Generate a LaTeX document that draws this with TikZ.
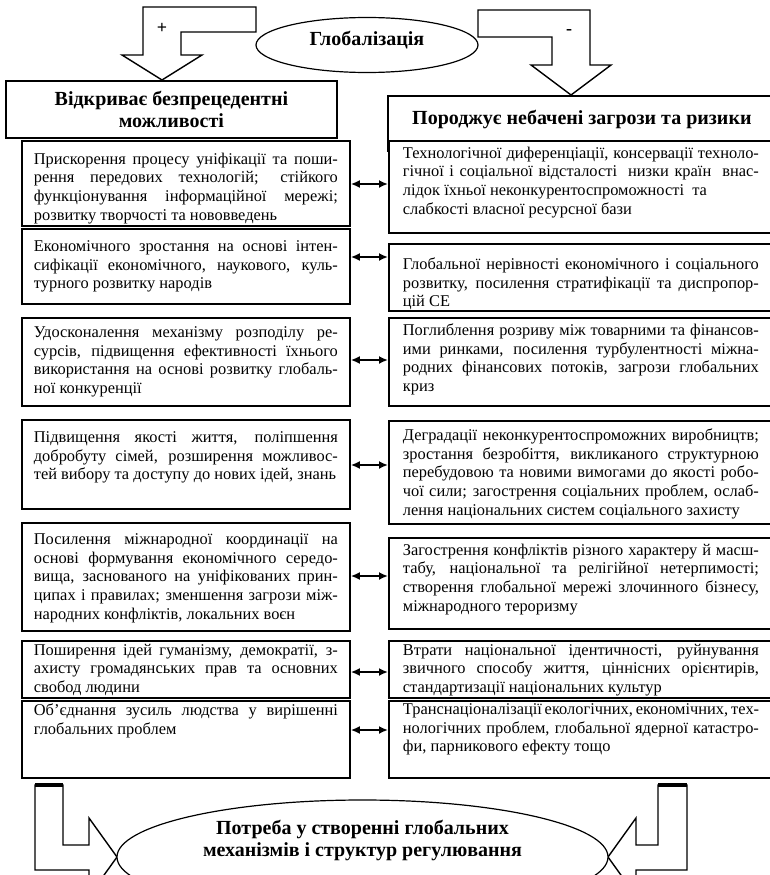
\documentclass[tikz,border=0pt]{standalone}
\usepackage{fontspec}
\setmainfont{Liberation Serif}
\usetikzlibrary{shapes.geometric,arrows.meta}

% one justified line of a cell, and the cell body ([top gap] height, width, lines)
\newcommand{\jl}[1]{\makebox[\linewidth][s]{#1}\\}
\newcommand{\cellbox}[4][9]{\parbox[c][#2pt][t]{#3pt}{\vspace*{#1pt}#4}}
% text set a little above the middle of its shape
\newcommand{\lift}[2]{\raisebox{#1}[\height][\depth]{\begin{tabular}{@{}c@{}}#2\end{tabular}}}

\begin{document}
\begin{tikzpicture}[x=1pt,y=-1pt,
  lcell/.style={draw, line width=1.8pt, fill=white, anchor=north west, inner sep=0pt,
    minimum width=328pt, font=\fontsize{16.4}{18.6}\selectfont},
  rcell/.style={lcell, minimum width=384pt},
  head/.style={draw, line width=1.8pt, fill=white, anchor=north west, align=center,
    inner sep=0pt, font=\fontsize{20}{22}\selectfont\bfseries},
  oval/.style={draw, ellipse, line width=1.2pt, fill=white, inner sep=0pt,
    font=\fontsize{20}{22}\selectfont\bfseries},
  fat/.style={draw, line width=1.4pt, fill=white, line join=miter},
  dbl/.style={{Latex[length=9pt,width=8pt]}-{Latex[length=9pt,width=8pt]}, line width=2pt},
  sign/.style={font=\fontsize{18}{18}\selectfont\bfseries}
]
\useasboundingbox (0,0) rectangle (769,875);

%% top: globalisation and its two outcomes
\draw[fat] (256,7) -- (143,7) -- (143,55) -- (122,55) -- (162,80) -- (202,55)
  -- (181,55) -- (181,32) -- (256,32) -- cycle;
\draw[fat] (478,10) -- (590,10) -- (590,65) -- (611,65) -- (571,95) -- (531,65)
  -- (552,65) -- (552,37) -- (478,37) -- cycle;
\node[oval, minimum width=222pt, minimum height=55pt] (glob) at (367,45)
  {\lift{4pt}{Глобалізація}};
\node[sign] (plus) at (162,28) {+};
\node[sign] (minus) at (569,32) {-};

\node[head, minimum width=331pt, minimum height=57pt] (hl) at (5,80)
  {Відкриває безпрецедентні\\можливості};
\node[head, minimum width=388pt, minimum height=55pt] (hr) at (387,95)
  {\lift{3pt}{Породжує небачені загрози та ризики}};

%% left column
\node[lcell] (l1) at (21,140) {\cellbox[12]{85}{304}{%
  \jl{Прискорення процесу уніфікації та поши-}%
  \jl{рення передових технологій; стійкого}%
  \jl{функціонування інформаційної мережі;}%
  розвитку творчості та нововведень}};
\node[lcell] (l2) at (21,228) {\cellbox[12]{75}{304}{%
  \jl{Економічного зростання на основі інтен-}%
  \jl{сифікації економічного, наукового, куль-}%
  турного розвитку народів}};
\node[lcell] (l3) at (21,317) {\cellbox{88}{304}{%
  \jl{Удосконалення механізму розподілу ре-}%
  \jl{сурсів, підвищення ефективності їхнього}%
  \jl{використання на основі розвитку глобаль-}%
  ної конкуренції}};
\node[lcell] (l4) at (21,419) {\cellbox[12]{89}{304}{%
  \jl{Підвищення якості життя, поліпшення}%
  \jl{добробуту сімей, розширення можливос-}%
  тей вибору та доступу до нових ідей, знань}};
\node[lcell] (l5) at (21,522) {\cellbox[11]{108}{304}{%
  \jl{Посилення міжнародної координації на}%
  \jl{основі формування економічного середо-}%
  \jl{вища, заснованого на уніфікованих прин-}%
  \jl{ципах і правилах; зменшення загрози між-}%
  народних конфліктів, локальних воєн}};
\node[lcell] (l6) at (21,640) {\cellbox[3]{57}{304}{%
  \jl{Поширення ідей гуманізму, демократії, з-}%
  \jl{ахисту громадянських прав та основних}%
  свобод людини}};
\node[lcell] (l7) at (21,700) {\cellbox[3]{77}{304}{%
  \jl{Об’єднання зусиль людства у вирішенні}%
  глобальних проблем}};

%% right column
\node[rcell] (r1) at (388,140) {\cellbox[6]{92}{356}{%
  \jl{Технологічної диференціації, консервації техноло-}%
  \jl{гічної і соціальної відсталості\ \ низки країн\ \ внас-}%
  лідок їхньої неконкурентоспроможності\ \ та\\
  слабкості власної ресурсної бази}};
\node[rcell] (r2) at (388,243) {\cellbox[14]{67}{356}{%
  \jl{Глобальної нерівності економічного і соціального}%
  \jl{розвитку, посилення стратифікації та диспропор-}%
  цій СЕ}};
\node[rcell] (r3) at (388,317) {\cellbox[6]{88}{356}{%
  \jl{Поглиблення розриву між товарними та фінансов-}%
  \jl{ими ринками, посилення турбулентності міжна-}%
  \jl{родних фінансових потоків, загрози глобальних}%
  криз}};
\node[rcell] (r4) at (388,420) {\cellbox[8]{103}{356}{%
  \jl{Деградації неконкурентоспроможних виробництв;}%
  \jl{зростання безробіття, викликаного структурною}%
  \jl{перебудовою та новими вимогами до якості робо-}%
  \jl{чої сили; загострення соціальних проблем, ослаб-}%
  лення національних систем соціального захисту}};
\node[rcell] (r5) at (388,537) {\cellbox[6]{91}{356}{%
  \jl{Загострення конфліктів різного характеру й масш-}%
  \jl{табу, національної та релігійної нетерпимості;}%
  \jl{створення глобальної мережі злочинного бізнесу,}%
  міжнародного тероризму}};
\node[rcell] (r6) at (388,640) {\cellbox[3]{57}{356}{%
  \jl{Втрати національної ідентичності, руйнування}%
  \jl{звичного способу життя, ціннісних орієнтирів,}%
  стандартизації національних культур}};
\node[rcell] (r7) at (388,700) {\cellbox[3]{77}{356}{%
  \jl{Транснаціоналізації екологічних, економічних, тех-}%
  \jl{нологічних проблем, глобальної ядерної катастро-}%
  фи, парникового ефекту тощо}};

%% links between the columns
\draw[dbl] (l1.east |- 0,184) -- (r1.west |- 0,184);
\draw[dbl] (l2.east |- 0,257) -- (r2.west |- 0,257);
\draw[dbl] (l3.east |- 0,360) -- (r3.west |- 0,360);
\draw[dbl] (l4.east |- 0,465) -- (r4.west |- 0,465);
\draw[dbl] (l5.east |- 0,576) -- (r5.west |- 0,576);
\draw[dbl] (l6.east |- 0,672) -- (r6.west |- 0,672);
\draw[dbl] (l7.east |- 0,730) -- (r7.west |- 0,730);

%% bottom: both sides lead to the need for regulation
\draw[fat] (35,785) -- (35,870) -- (89,870) -- (89,896) -- (117,857) -- (89,818)
  -- (89,845) -- (63,845) -- (63,785) -- cycle;
\draw[line width=3.5pt] (35,785) -- (63,785);
\draw[fat] (687,785) -- (687,870) -- (636,870) -- (636,896) -- (608,857) -- (636,818)
  -- (636,845) -- (658,845) -- (658,785) -- cycle;
\draw[line width=3.5pt] (658,785) -- (687,785);
\node[oval, minimum width=491pt, minimum height=114pt] (need) at (362.5,857)
  {\lift{16pt}{Потреба у створенні глобальних\\механізмів і структур регулювання}};
\end{tikzpicture}
\end{document}
